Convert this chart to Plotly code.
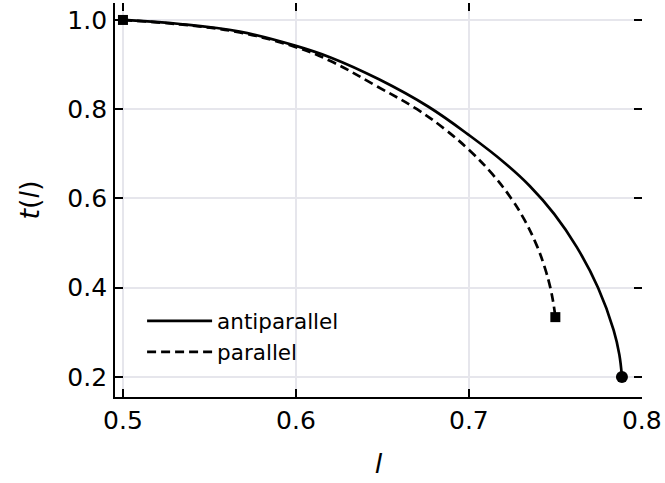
import plotly.graph_objects as go

# antiparallel curve
l_anti = [0.5, 0.533, 0.5675, 0.6, 0.62, 0.648, 0.6764, 0.7004, 0.7209, 0.7352, 0.7494, 0.7624, 0.7747, 0.7837, 0.787, 0.7885]
t_anti = [1.0, 0.991, 0.974, 0.942, 0.916, 0.867, 0.806, 0.741, 0.679, 0.628, 0.565, 0.491, 0.400, 0.305, 0.250, 0.200]

# parallel curve
l_par = [0.5, 0.533, 0.5675, 0.6, 0.62, 0.647, 0.670, 0.6862, 0.7003, 0.7135, 0.7245, 0.732, 0.7391, 0.7439, 0.7471, 0.749, 0.75]
t_par = [1.0, 0.990, 0.972, 0.939, 0.908, 0.851, 0.800, 0.755, 0.708, 0.655, 0.600, 0.553, 0.496, 0.445, 0.400, 0.362, 0.334]

x_ticks = [0.5, 0.6, 0.7, 0.8]
x_ticklabels = ["0.5", "0.6", "0.7", "0.8"]
y_ticks = [0.2, 0.4, 0.6, 0.8, 1.0]
y_ticklabels = ["0.2", "0.4", "0.6", "0.8", "1.0"]

X_RANGE = [0.4954, 0.8001]
Y_RANGE = [0.155, 1.038]

FONT = "DejaVu Sans"
fig = go.Figure()

fig.add_trace(go.Scatter(x=l_anti, y=t_anti, mode="lines", name="antiparallel",
                         line=dict(color="black", width=2.7, shape="spline", smoothing=1.1)))
fig.add_trace(go.Scatter(x=l_par, y=t_par, mode="lines", name="parallel",
                         line=dict(color="black", width=2.7, dash="9px,5px", shape="spline", smoothing=1.1)))

# end markers
fig.add_trace(go.Scatter(x=[l_anti[0]], y=[t_anti[0]], mode="markers", showlegend=False,
                         marker=dict(symbol="square", size=10, color="black")))
fig.add_trace(go.Scatter(x=[l_par[-1]], y=[t_par[-1]], mode="markers", showlegend=False,
                         marker=dict(symbol="square", size=10, color="black")))
fig.add_trace(go.Scatter(x=[l_anti[-1]], y=[t_anti[-1]], mode="markers", showlegend=False,
                         marker=dict(symbol="circle", size=12, color="black")))

# invisible trace for mirrored tick axes
fig.add_trace(go.Scatter(x=[None], y=[None], xaxis="x2", yaxis="y2", showlegend=False))

grid = "#e6e6ec"
fig.update_layout(
    width=665, height=483,
    margin=dict(l=115, r=23, t=3, b=86),
    paper_bgcolor="white", plot_bgcolor="white",
    font=dict(family=FONT, size=25, color="black"),
    showlegend=True,
    legend=dict(x=0.0514, y=0.245, xanchor="left", yanchor="top",
                bgcolor="rgba(0,0,0,0)", font=dict(size=21.5, family=FONT),
                tracegroupgap=0, itemwidth=65),
    xaxis=dict(range=X_RANGE, tickvals=x_ticks, ticktext=x_ticklabels,
               showgrid=True, gridcolor=grid, gridwidth=1.5,
               showline=True, linecolor="black", linewidth=1.8,
               ticks="inside", ticklen=8, tickwidth=1.6, tickcolor="black",
               zeroline=False, automargin=False, ticklabelstandoff=0,
               title=dict(text="<i>l</i>", font=dict(size=27, family=FONT), standoff=20)),
    yaxis=dict(range=Y_RANGE, tickvals=y_ticks, ticktext=y_ticklabels,
               showgrid=True, gridcolor=grid, gridwidth=1.5,
               showline=True, linecolor="black", linewidth=1.8,
               ticks="inside", ticklen=8, tickwidth=1.6, tickcolor="black",
               zeroline=False, automargin=False, ticklabelstandoff=1,
               title=dict(text="<i>t</i>(<i>l</i>)", font=dict(size=27, family=FONT), standoff=20)),
    xaxis2=dict(range=X_RANGE, tickvals=x_ticks, overlaying="x", side="top",
                showticklabels=False, showgrid=False, showline=False, zeroline=False,
                ticks="inside", ticklen=8, tickwidth=1.6, tickcolor="black"),
    yaxis2=dict(range=Y_RANGE, tickvals=y_ticks, overlaying="y", side="right",
                showticklabels=False, showgrid=False, showline=False, zeroline=False,
                ticks="inside", ticklen=8, tickwidth=1.6, tickcolor="black"),
)

fig.write_html("out.html", config={"displayModeBar": False},
               post_script="document.body.style.margin='0';")
